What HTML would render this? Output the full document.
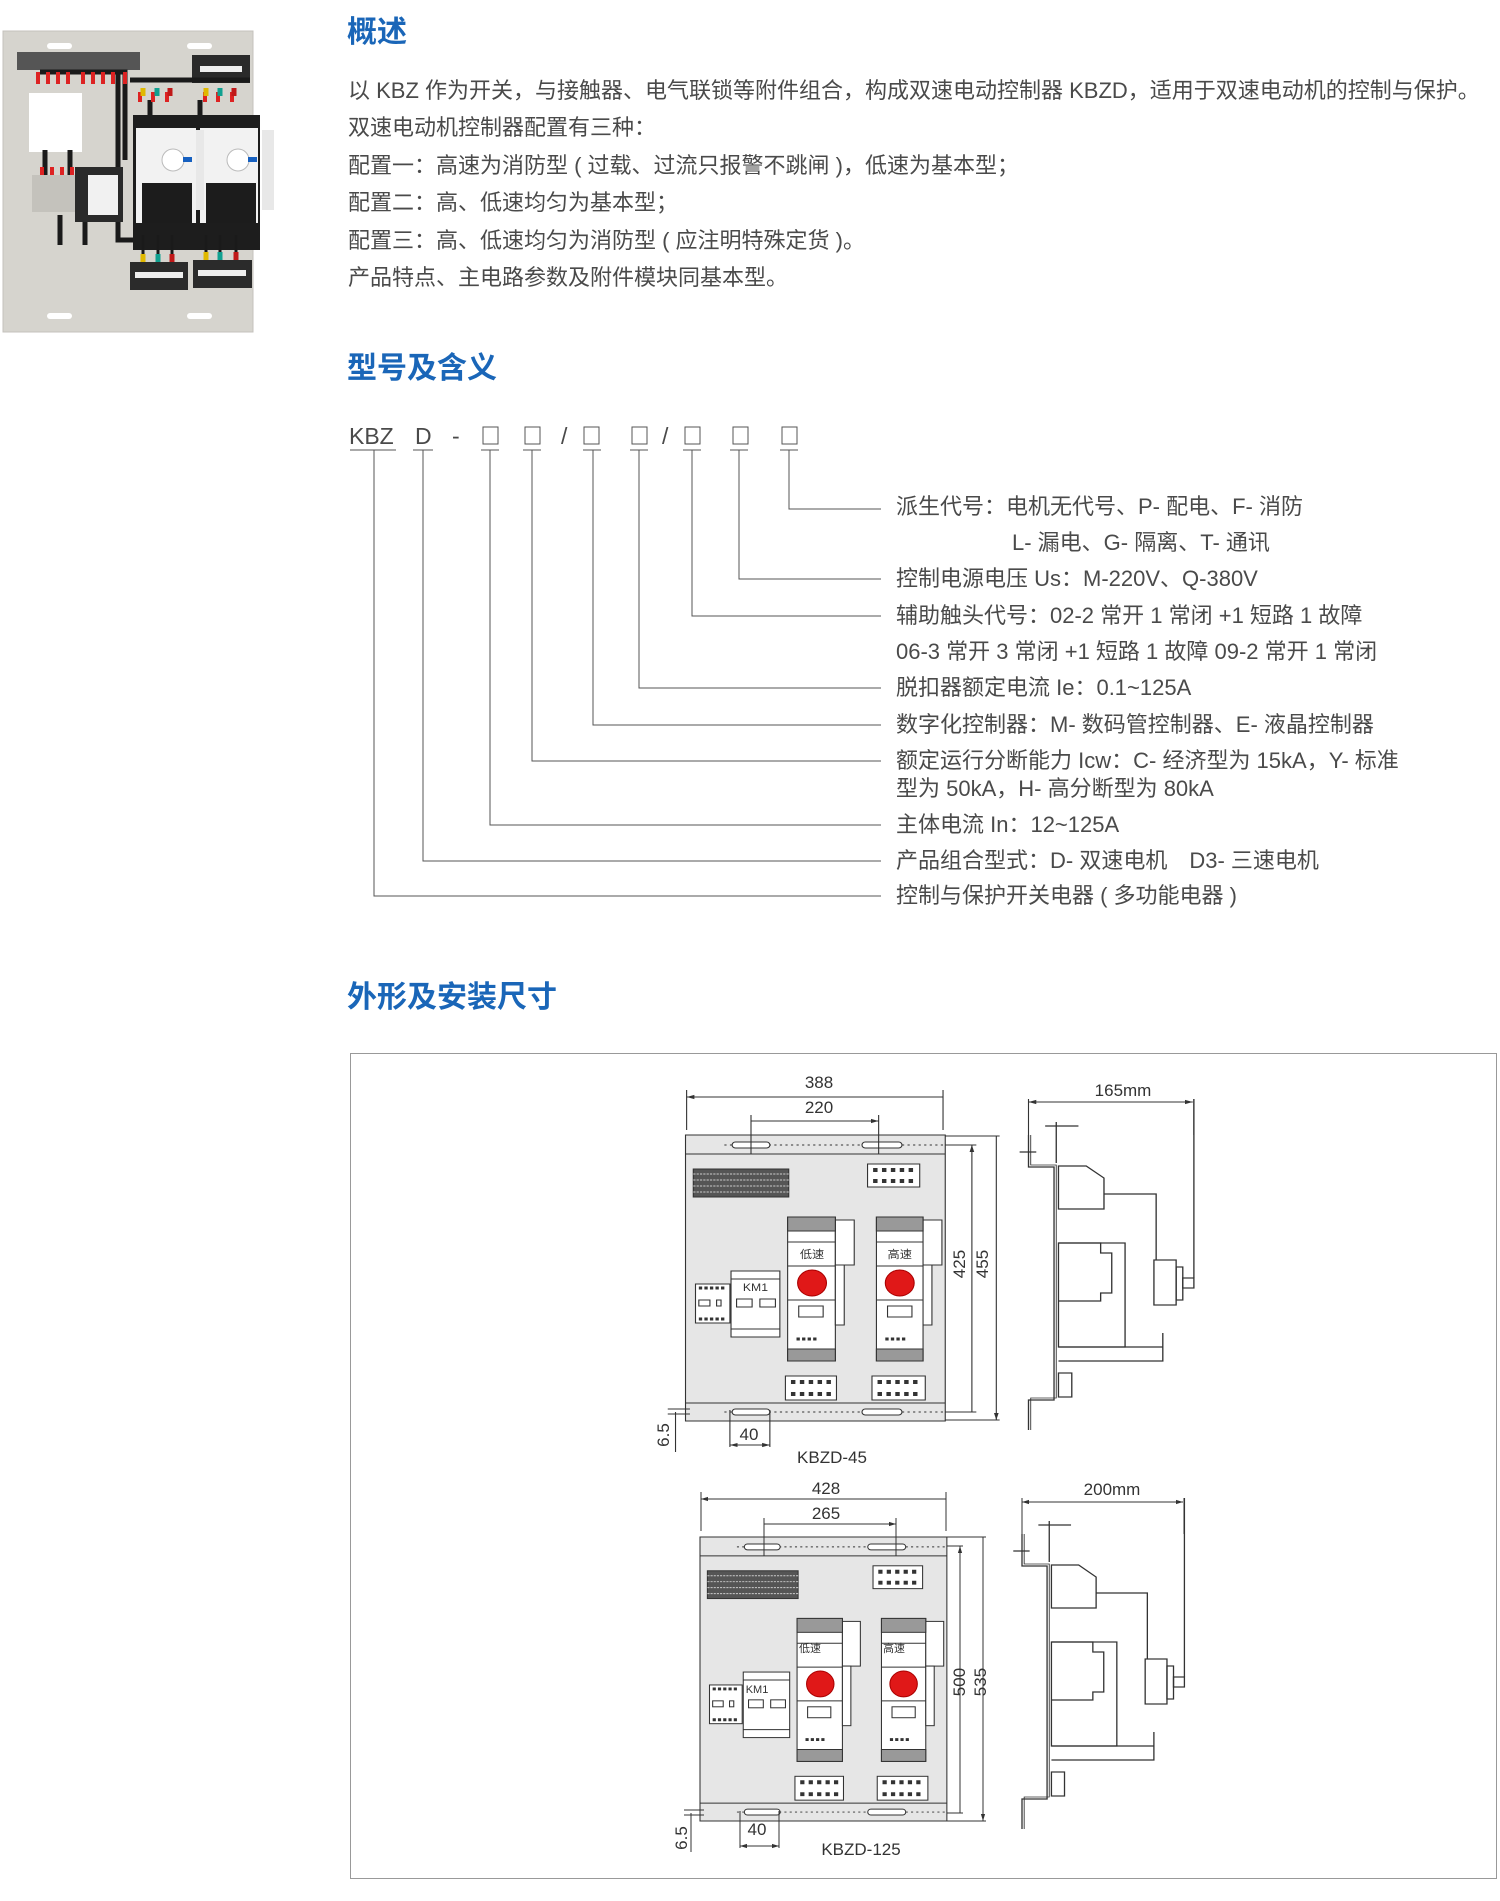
<!DOCTYPE html>
<html><head><meta charset="utf-8"><style>
body{margin:0;background:#fff;width:1500px;height:1901px;position:relative;overflow:hidden;font-family:"Liberation Sans","Noto Sans CJK SC",sans-serif;color:#4a4a4a}
.h{position:absolute;left:347px;font-size:30px;font-weight:bold;color:#1a66b8;line-height:34px}
.p{position:absolute;left:348px;font-size:22px;line-height:26px;white-space:nowrap}
.l{position:absolute;left:896px;font-size:22px;line-height:26px;white-space:nowrap}
svg{position:absolute;left:0;top:0}
</style></head><body>
<div class="h" style="top:16px">概述</div>
<div class="p" style="top:78px">以 KBZ 作为开关，与接触器、电气联锁等附件组合，构成双速电动控制器 KBZD，适用于双速电动机的控制与保护。</div>
<div class="p" style="top:115px">双速电动机控制器配置有三种：</div>
<div class="p" style="top:153px">配置一：高速为消防型 ( 过载、过流只报警不跳闸 )，低速为基本型；</div>
<div class="p" style="top:190px">配置二：高、低速均匀为基本型；</div>
<div class="p" style="top:228px">配置三：高、低速均匀为消防型 ( 应注明特殊定货 )。</div>
<div class="p" style="top:265px">产品特点、主电路参数及附件模块同基本型。</div>
<div class="h" style="top:352px">型号及含义</div>
<div class="h" style="top:981px">外形及安装尺寸</div>

<div class="l" style="top:494px">派生代号：电机无代号、P- 配电、F- 消防</div>
<div class="l" style="top:530px;left:1012px">L- 漏电、G- 隔离、T- 通讯</div>
<div class="l" style="top:566px">控制电源电压 Us：M-220V、Q-380V</div>
<div class="l" style="top:603px">辅助触头代号：02-2 常开 1 常闭 +1 短路 1 故障</div>
<div class="l" style="top:639px">06-3 常开 3 常闭 +1 短路 1 故障 09-2 常开 1 常闭</div>
<div class="l" style="top:675px">脱扣器额定电流 Ie：0.1~125A</div>
<div class="l" style="top:712px">数字化控制器：M- 数码管控制器、E- 液晶控制器</div>
<div class="l" style="top:748px">额定运行分断能力 Icw：C- 经济型为 15kA，Y- 标准</div>
<div class="l" style="top:776px">型为 50kA，H- 高分断型为 80kA</div>
<div class="l" style="top:812px">主体电流 In：12~125A</div>
<div class="l" style="top:848px">产品组合型式：D- 双速电机　D3- 三速电机</div>
<div class="l" style="top:883px">控制与保护开关电器 ( 多功能电器 )</div>

<svg width="1500" height="1901" viewBox="0 0 1500 1901">
<defs>
<marker id="a" viewBox="0 0 10 10" refX="10" refY="5" markerWidth="7" markerHeight="7" orient="auto-start-reverse"><path d="M0 2L10 5L0 8z" fill="#333"/></marker>
<g id="panel" fill="none" stroke="#333" stroke-width="1">
 <rect x="681" y="1135" width="234" height="286" fill="#e6e6e6"/>
 <line x1="681" y1="1154" x2="915" y2="1154"/>
 <line x1="681" y1="1403" x2="915" y2="1403"/>
 <line x1="716" y1="1145" x2="915" y2="1145" stroke-dasharray="2,3"/>
 <line x1="716" y1="1412" x2="915" y2="1412" stroke-dasharray="2,3"/>
 <rect x="723" y="1142" width="34" height="6" rx="3" fill="#fff"/>
 <rect x="840" y="1142" width="36" height="6" rx="3" fill="#fff"/>
 <rect x="723" y="1409" width="34" height="6" rx="3" fill="#fff"/>
 <rect x="840" y="1409" width="36" height="6" rx="3" fill="#fff"/>
 <rect x="688" y="1169" width="86" height="28" fill="#555" stroke="#333"/>
 <path d="M688 1174H774M688 1180H774M688 1186H774M688 1192H774" stroke="#ccc" stroke-dasharray="2,1"/>
 <rect x="845" y="1164" width="47" height="23" fill="#fff"/>
 <path d="M850 1170h4M858 1170h4M866 1170h4M874 1170h4M882 1170h4M850 1181h4M858 1181h4M866 1181h4M874 1181h4M882 1181h4" stroke="#333" stroke-width="4"/>
 <rect x="771" y="1376" width="46" height="24" fill="#fff"/>
 <path d="M776 1382h4M784 1382h4M792 1382h4M800 1382h4M808 1382h4M776 1394h4M784 1394h4M792 1394h4M800 1394h4M808 1394h4" stroke="#333" stroke-width="4"/>
 <rect x="849" y="1376" width="48" height="24" fill="#fff"/>
 <path d="M854 1382h4M862 1382h4M870 1382h4M878 1382h4M886 1382h4M854 1394h4M862 1394h4M870 1394h4M878 1394h4M886 1394h4" stroke="#333" stroke-width="4"/>
 <rect x="773" y="1217" width="43" height="144" fill="#fff"/>
 <rect x="816" y="1220" width="17" height="45" fill="#fff"/>
 <rect x="816" y="1265" width="8" height="60" fill="#fff"/>
 <rect x="773" y="1217" width="43" height="14" fill="#999"/>
 <rect x="773" y="1349" width="43" height="12" fill="#999"/>
 <line x1="773" y1="1242" x2="816" y2="1242"/><line x1="773" y1="1266" x2="816" y2="1266"/><line x1="773" y1="1300" x2="816" y2="1300"/>
 <circle cx="795" cy="1283" r="13" fill="#e01818" stroke="#a00"/>
 <rect x="783" y="1306" width="22" height="11"/>
 <path d="M781 1339h3M786 1339h3M791 1339h3M796 1339h3" stroke-width="3"/>
 <rect x="853" y="1217" width="42" height="144" fill="#fff"/>
 <rect x="895" y="1220" width="17" height="45" fill="#fff"/>
 <rect x="895" y="1265" width="8" height="60" fill="#fff"/>
 <rect x="853" y="1217" width="42" height="14" fill="#999"/>
 <rect x="853" y="1349" width="42" height="12" fill="#999"/>
 <line x1="853" y1="1242" x2="895" y2="1242"/><line x1="853" y1="1266" x2="895" y2="1266"/><line x1="853" y1="1300" x2="895" y2="1300"/>
 <circle cx="874" cy="1283" r="13" fill="#e01818" stroke="#a00"/>
 <rect x="863" y="1306" width="22" height="11"/>
 <path d="M861 1339h3M866 1339h3M871 1339h3M876 1339h3" stroke-width="3"/>
 <rect x="722" y="1271" width="44" height="66" fill="#fff"/>
 <line x1="722" y1="1279" x2="766" y2="1279"/><line x1="722" y1="1329" x2="766" y2="1329"/>
 <rect x="727" y="1299" width="14" height="8"/><rect x="748" y="1299" width="14" height="8"/>
 <rect x="690" y="1284" width="31" height="39" fill="#fff"/>
 <path d="M693 1288h24M693 1319h24" stroke-width="3" stroke-dasharray="3,2"/>
 <rect x="693" y="1300" width="10" height="6"/><rect x="709" y="1300" width="4" height="6"/>
</g>
<g id="side" fill="none" stroke="#333" stroke-width="1.2">
 <path d="M990 1135V1167H1013V1400H990V1430"/>
 <path d="M992 1135V1165H1015V1398H992V1430" stroke-width="0.8"/>
 <path d="M982 1152H997M1015 1122V1163M1005 1126H1035"/>
 <path d="M1017 1166h25l16 12v31h-41z" fill="#fff"/>
 <path d="M1058 1194H1105V1260"/>
 <rect x="1103" y="1260" width="20" height="45" fill="#fff"/>
 <rect x="1123" y="1267" width="6" height="33"/>
 <rect x="1129" y="1278" width="10" height="10"/>
 <path d="M1139 1278V1099"/>
 <rect x="1017" y="1243" width="60" height="104" fill="#fff"/>
 <path d="M1017 1243h38v10h10v40h-10v8h-38"/>
 <path d="M1017 1347h94v-14M1111 1333v28h-94"/>
 <rect x="1017" y="1373" width="12" height="24"/>
</g>
</defs>

<!-- model code diagram -->
<g stroke="#555" stroke-width="1" fill="none">
 <path d="M350 450h46M413 450h20M481 450h18M523 450h18M583 450h18M630 450h18M683 450h18M730 450h18M780 450h18"/>
 <path d="M789 450V509H881M739 450V579H881M692 450V616H881M639 450V688H881M593 450V725H881M532 450V761H881M490 450V825H881M423 450V861H881M374 450V896H881"/>
 <rect x="483" y="427" width="15" height="17"/><rect x="525" y="427" width="15" height="17"/>
 <rect x="584" y="427" width="15" height="17"/><rect x="632" y="427" width="15" height="17"/>
 <rect x="685" y="427" width="15" height="17"/><rect x="733" y="427" width="15" height="17"/>
 <rect x="782" y="427" width="15" height="17"/>
</g>
<g font-family="Liberation Sans" font-size="23" fill="#4a4a4a">
 <text x="349" y="444">KBZ</text><text x="415" y="444">D</text><text x="452" y="444">-</text>
 <text x="561" y="444">/</text><text x="662" y="444">/</text>
</g>

<rect x="350.5" y="1053.5" width="1146" height="825" fill="none" stroke="#999"/>

<!-- photo -->
<g>
 <rect x="3" y="31" width="250" height="301" fill="#d6d4ce" stroke="#c4c2bc"/>
 <rect x="47" y="43" width="25" height="6" rx="3" fill="#fff"/><rect x="187" y="43" width="25" height="6" rx="3" fill="#fff"/>
 <rect x="47" y="313" width="25" height="6" rx="3" fill="#fff"/><rect x="187" y="313" width="25" height="6" rx="3" fill="#fff"/>
 <rect x="17" y="52" width="123" height="18" fill="#555"/>
 <rect x="192" y="55" width="58" height="28" fill="#2a2a2a"/><rect x="200" y="66" width="42" height="6" fill="#eee"/>
 <rect x="29" y="93" width="53" height="59" fill="#fff"/>
 <path d="M40 72H125V160M118 72V240H230M45 150V175M70 150V175M60 215V245M85 215V245M130 80H250M150 100V118M200 100V118" stroke="#1a1a1a" stroke-width="5" fill="none"/>
 <path d="M38 72v12M48 72v12M58 72v12M68 72v12M83 72v12M93 72v12M103 72v12M113 72v12M125 72v12M140 92v10M153 92v10M167 92v10M205 92v10M218 92v10M232 92v10M42 167v10M52 167v10M62 167v10M72 167v10" stroke="#d22" stroke-width="4"/>
 <rect x="133" y="115" width="67" height="135" fill="#1d1d1d"/>
 <rect x="198" y="115" width="62" height="135" fill="#1d1d1d"/>
 <rect x="136" y="128" width="60" height="95" fill="#f2f2f2"/>
 <rect x="200" y="128" width="58" height="95" fill="#f2f2f2"/>
 <rect x="196" y="130" width="8" height="80" fill="#e8e8e8"/><rect x="262" y="130" width="12" height="80" fill="#e8e8e8"/>
 <rect x="142" y="183" width="50" height="40" fill="#1c1c1c"/><rect x="206" y="183" width="50" height="40" fill="#1c1c1c"/>
 <circle cx="173" cy="160" r="11" fill="#fff" stroke="#bbb"/><circle cx="238" cy="160" r="11" fill="#fff" stroke="#bbb"/>
 <rect x="183" y="157" width="9" height="5" fill="#1660c0"/><rect x="248" y="157" width="9" height="5" fill="#1660c0"/>
 <rect x="75" y="167" width="48" height="55" fill="#2a2a2a"/><rect x="88" y="175" width="30" height="40" fill="#f1f1f1"/>
 <rect x="32" y="175" width="43" height="37" fill="#c4c2bc"/>
 <rect x="130" y="262" width="58" height="28" fill="#2b2b2b"/><rect x="193" y="260" width="59" height="28" fill="#2b2b2b"/>
 <rect x="135" y="272" width="48" height="6" fill="#eee"/><rect x="198" y="270" width="48" height="6" fill="#eee"/>
 <path d="M143 235v25M158 235v25M172 235v25M206 235v25M220 235v25M236 235v25" stroke="#1a1a1a" stroke-width="3"/>
 <path d="M143 254v8M206 252v8M143 88v8M206 88v8" stroke="#e0b800" stroke-width="5"/>
 <path d="M158 254v8M220 252v8M157 88v8M220 88v8" stroke="#10a090" stroke-width="5"/>
 <path d="M172 254v8M236 252v8M170 88v8M234 88v8" stroke="#c01818" stroke-width="5"/>
</g>

<!-- drawing 1 (geometry scaled horizontally) -->
<g transform="translate(640,0) scale(1.11,1) translate(-640,0)">
 <use href="#panel"/>
 <use href="#side"/>
 <g stroke="#333" stroke-width="1" fill="none">
  <path d="M682 1090V1130M913 1090V1130M740 1115V1154M855 1115V1154"/>
  <path d="M682 1097H913M740 1121H855" marker-start="url(#a)" marker-end="url(#a)"/>
  <path d="M915 1136H964M915 1145H943M915 1412H943M915 1420H964"/>
  <path d="M939 1145V1412M961 1136V1420" marker-start="url(#a)" marker-end="url(#a)"/>
  <path d="M721 1410V1447M757 1410V1447M672 1412V1452M665 1409h20M665 1414h20"/>
  <path d="M721 1445H757" marker-start="url(#a)" marker-end="url(#a)"/>
  <path d="M990 1099V1135M1139 1099V1135"/>
  <path d="M990 1102H1138" marker-start="url(#a)" marker-end="url(#a)"/>
 </g>
 <g font-family="Liberation Sans, Noto Sans CJK SC" font-size="11" fill="#333" text-anchor="middle">
  <text x="795" y="1258">低速</text><text x="874" y="1258">高速</text><text x="744" y="1291">KM1</text>
 </g>
</g>

<!-- drawing 2 -->
<g transform="translate(700,1537) scale(1.055,0.993) translate(-681,-1135)"><use href="#panel"/></g>
<g transform="translate(1022,1498) scale(1.09,1) translate(-990,-1099)"><use href="#side"/></g>
<g stroke="#333" stroke-width="1" fill="none">
 <path d="M701 1492V1531M946 1492V1531M764 1518V1556M896 1518V1556"/>
 <path d="M701 1499H946M764 1524H896" marker-start="url(#a)" marker-end="url(#a)"/>
 <path d="M947 1537H986M947 1546H963M947 1813H963M947 1821H986"/>
 <path d="M960 1546V1813M983 1537V1821" marker-start="url(#a)" marker-end="url(#a)"/>
 <path d="M740 1811V1848M779 1811V1848M691 1813V1852M684 1810h20M684 1815h20"/>
 <path d="M740 1846H779" marker-start="url(#a)" marker-end="url(#a)"/>
 <path d="M1022 1498V1534M1184 1498V1534"/>
 <path d="M1022 1502H1183" marker-start="url(#a)" marker-end="url(#a)"/>
</g>

<g font-family="Liberation Sans" font-size="17" fill="#333" text-anchor="middle">
 <text x="819" y="1088">388</text><text x="819" y="1113">220</text>
 <text x="749" y="1440">40</text><text x="832" y="1463">KBZD-45</text>
 <text x="1123" y="1096">165mm</text>
 <text transform="translate(965,1264) rotate(-90)">425</text>
 <text transform="translate(988,1264) rotate(-90)">455</text>
 <text transform="translate(669,1435) rotate(-90)">6.5</text>
 <text x="826" y="1494">428</text><text x="826" y="1519">265</text>
 <text x="757" y="1835">40</text><text x="861" y="1855">KBZD-125</text>
 <text x="1112" y="1495">200mm</text>
 <text transform="translate(965,1682) rotate(-90)">500</text>
 <text transform="translate(986,1682) rotate(-90)">535</text>
 <text transform="translate(687,1838) rotate(-90)">6.5</text>
 <g font-family="Liberation Sans, Noto Sans CJK SC" font-size="11">
  <text x="810" y="1652">低速</text><text x="894" y="1652">高速</text><text x="757" y="1693">KM1</text>
 </g>
</g>
</svg>
</body></html>
